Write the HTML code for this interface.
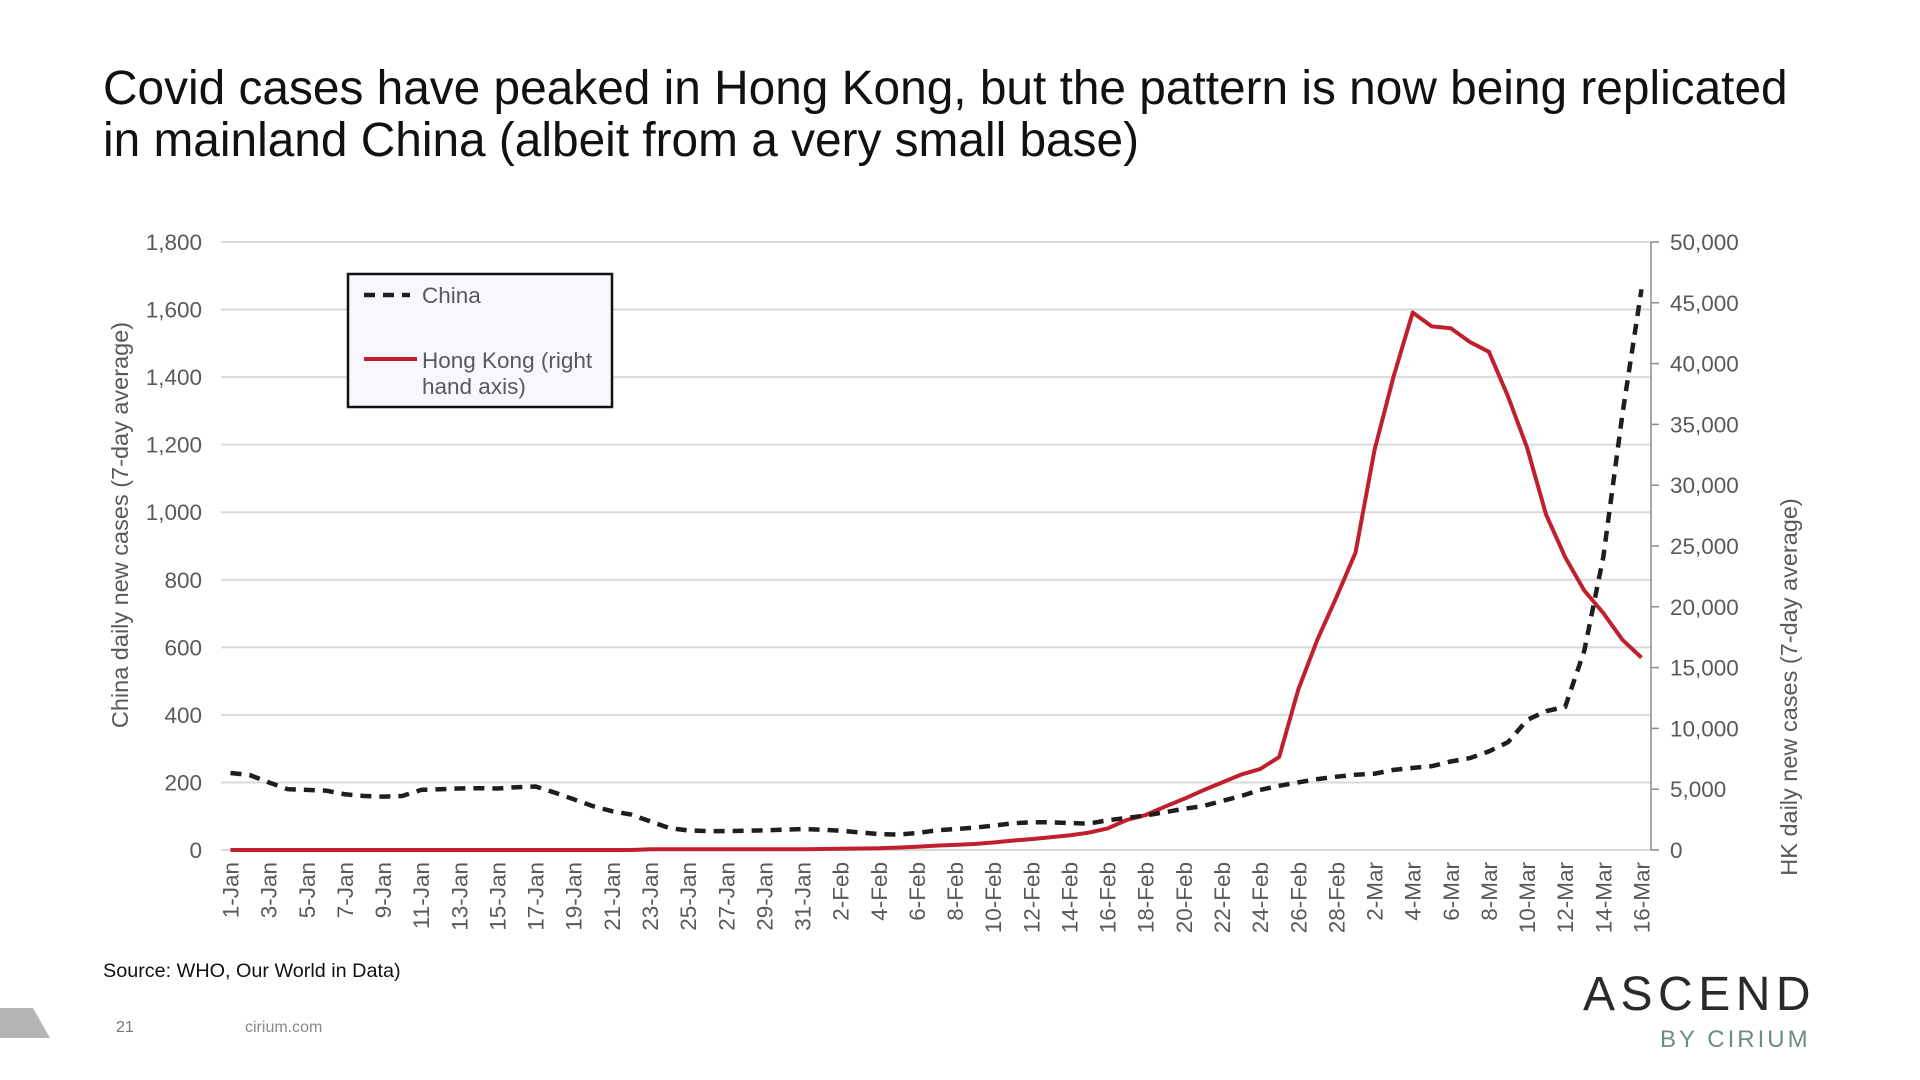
<!DOCTYPE html>
<html><head><meta charset="utf-8"><style>
html,body{margin:0;padding:0;background:#fff;}
svg{display:block;font-family:"Liberation Sans",Arial,sans-serif;}
</style></head><body>
<svg id="chart" width="1920" height="1080" viewBox="0 0 1920 1080" xmlns="http://www.w3.org/2000/svg">
<text x="103" y="104" font-size="47.8" fill="#111">Covid cases have peaked in Hong Kong, but the pattern is now being replicated</text>
<text x="103" y="156" font-size="47.8" fill="#111">in mainland China (albeit from a very small base)</text>
<g id="grid"></g>
<g id="yleft"></g>
<g id="yright"></g>
<g id="xlab"></g>
<line x1="1651" y1="242" x2="1651" y2="850" stroke="#8c8c8c" stroke-width="1.5"/>
<text transform="translate(128,525) rotate(-90)" text-anchor="middle" font-size="23.5" fill="#595959">China daily new cases (7-day average)</text>
<text transform="translate(1797,687) rotate(-90)" text-anchor="middle" font-size="23.5" fill="#595959">HK daily new cases (7-day average)</text>
<path id="hkLine" fill="none" stroke="#c0202e" stroke-width="4" stroke-linejoin="round"/>
<path id="cnLine" fill="none" stroke="#1e1e1e" stroke-width="4.5" stroke-dasharray="11 8"/>
<g>
<rect x="348" y="274" width="264" height="133" fill="#f7f8fd" stroke="#111" stroke-width="2.5"/>
<line x1="364" y1="295" x2="410" y2="295" stroke="#1e1e1e" stroke-width="4.5" stroke-dasharray="11 8"/>
<text x="422" y="303" font-size="22.5" fill="#595959">China</text>
<line x1="364" y1="359" x2="417" y2="359" stroke="#c0202e" stroke-width="4"/>
<text x="422" y="368" font-size="22.5" fill="#595959">Hong Kong (right</text>
<text x="422" y="394" font-size="22.5" fill="#595959">hand axis)</text>
</g>
<text x="103" y="977" font-size="19.8" fill="#111">Source: WHO, Our World in Data)</text>
<polygon points="0,1008 33,1008 50,1038 0,1038" fill="#b5b5b5"/>
<text x="116" y="1032" font-size="16" fill="#777">21</text>
<text x="245" y="1032" font-size="16" fill="#888">cirium.com</text>
<text x="1583" y="1010" font-size="48" fill="#2a2a2a" letter-spacing="5.5">ASCEND</text>
<text x="1660" y="1047" font-size="24" fill="#6e8a85" letter-spacing="3">BY CIRIUM</text>
</svg>
<script>
const chinaCases = [228,222,200,180,178,176,165,160,158,160,178,180,182,183,182,186,188,170,150,130,115,105,85,65,58,56,56,57,58,60,62,60,57,52,47,46,50,58,62,66,72,79,82,82,80,78,88,95,102,112,122,130,145,160,178,190,200,210,217,223,226,237,243,248,262,272,292,319,385,411,424,590,867,1290,1660];
const hkCases = [0,0,0,0,0,0,0,0,0,0,0,0,0,0,0,0,0,0,0,0,0,0,60,60,60,60,60,60,60,60,60,80,100,120,140,200,270,360,420,490,620,770,900,1050,1200,1420,1780,2470,2880,3560,4200,4900,5550,6200,6650,7650,13200,17290,20780,24450,32890,38950,44200,43060,42900,41780,40970,37300,33080,27570,24080,21330,19490,17290,15820];
const leftTicks = [0,200,400,600,800,1000,1200,1400,1600,1800];
const rightTicks = [0,5000,10000,15000,20000,25000,30000,35000,40000,45000,50000];
const months = [["Jan",31],["Feb",28],["Mar",16]];
const categories = [];
months.forEach(function(m){for(let d=1;d<=m[1];d++)categories.push(d+"-"+m[0]);});

const NS="http://www.w3.org/2000/svg";
const X0=221, X1=1651, YT=242, YB=850;
const step=(X1-X0)/categories.length;
function xPos(i){return X0+step*(i+0.5);}
function yLeft(v){return YB-(v/1800)*(YB-YT);}
function yRight(v){return YB-(v/50000)*(YB-YT);}
function fmt(v){return v.toLocaleString("en-US");}

const grid=document.getElementById("grid");
leftTicks.forEach(function(t){
  const l=document.createElementNS(NS,"line");
  l.setAttribute("x1",X0);l.setAttribute("x2",X1);
  l.setAttribute("y1",yLeft(t));l.setAttribute("y2",yLeft(t));
  l.setAttribute("stroke","#d9d9d9");l.setAttribute("stroke-width","2");
  
  
  grid.appendChild(l);
  const tx=document.createElementNS(NS,"text");
  tx.setAttribute("x",202);tx.setAttribute("y",yLeft(t)+8);
  tx.setAttribute("text-anchor","end");tx.setAttribute("font-size","22.5");tx.setAttribute("fill","#595959");
  tx.textContent=fmt(t);
  
  
  document.getElementById("yleft").appendChild(tx);
});
rightTicks.forEach(function(t){
  const l=document.createElementNS(NS,"line");
  l.setAttribute("x1",X1);l.setAttribute("x2",X1+8);
  l.setAttribute("y1",yRight(t));l.setAttribute("y2",yRight(t));
  l.setAttribute("stroke","#8c8c8c");l.setAttribute("stroke-width","1.5");
  
  
  document.getElementById("yright").appendChild(l);
  const tx=document.createElementNS(NS,"text");
  tx.setAttribute("x",1670);tx.setAttribute("y",yRight(t)+8);
  tx.setAttribute("font-size","22.5");tx.setAttribute("fill","#595959");
  tx.textContent=fmt(t);
  
  
  document.getElementById("yright").appendChild(tx);
});
categories.forEach(function(c,i){
  if(i%2!==0)return;
  const tx=document.createElementNS(NS,"text");
  tx.setAttribute("transform","translate("+(xPos(i)+8)+",862) rotate(-90)");
  tx.setAttribute("text-anchor","end");tx.setAttribute("font-size","22.5");tx.setAttribute("fill","#595959");
  tx.textContent=c;
  
  
  document.getElementById("xlab").appendChild(tx);
});
document.getElementById("hkLine").setAttribute("d",hkCases.map(function(v,i){return (i?"L":"M")+xPos(i).toFixed(1)+","+yRight(v).toFixed(1);}).join(""));
document.getElementById("cnLine").setAttribute("d",chinaCases.map(function(v,i){return (i?"L":"M")+xPos(i).toFixed(1)+","+yLeft(v).toFixed(1);}).join(""));
</script>
</body></html>
